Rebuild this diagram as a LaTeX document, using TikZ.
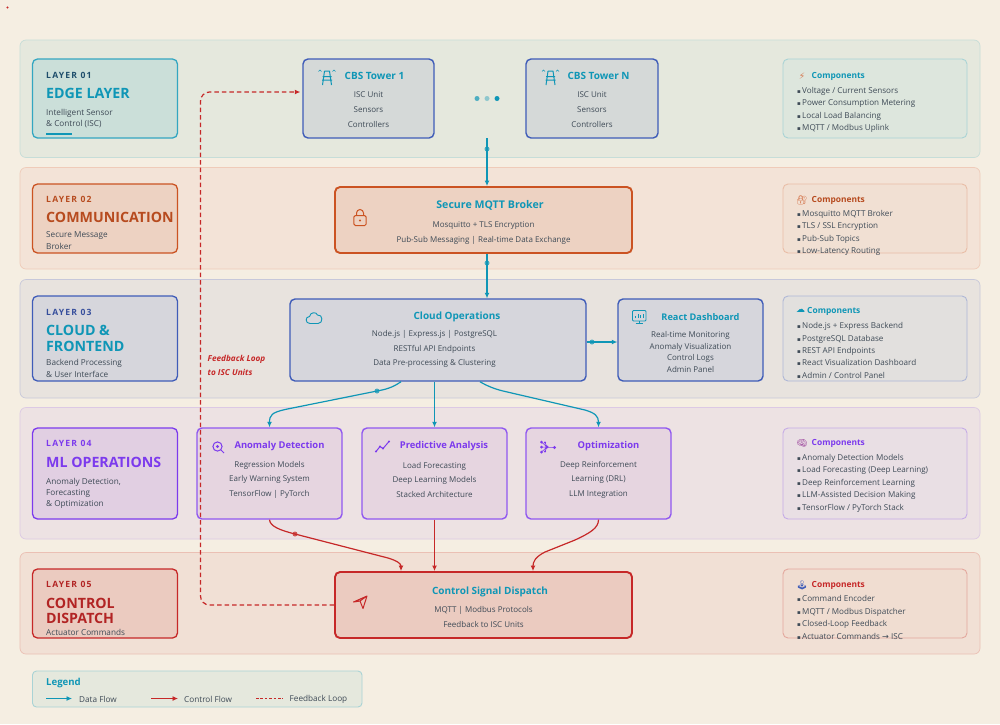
\documentclass[tikz,border=0pt]{standalone}
\usepackage{fontspec}
\usepackage[HTML]{xcolor}
\usetikzlibrary{positioning, arrows.meta}
\setmainfont{Open Sans}
\newfontfamily\layerfont[LetterSpace=14]{Open Sans}
\newfontfamily\glyphfont{DejaVu Sans}
\newfontfamily\emojifont{Noto Emoji}
\newcommand{\bul}{\makebox[5pt][l]{\glyphfont\fontsize{5.5}{5.5}\selectfont ▪}}

\definecolor{pagebg}{HTML}{F5EEE2}
\definecolor{tealc}{HTML}{0F96B6}
\definecolor{navyc}{HTML}{1E4D6B}
\definecolor{bluec}{HTML}{3F5CB8}
\definecolor{orangec}{HTML}{CB5322}
\definecolor{purplec}{HTML}{7C3AED}
\definecolor{redc}{HTML}{C62828}
\definecolor{bodyc}{HTML}{3E4A56}
\definecolor{bandA}{HTML}{E5E8DD}
\definecolor{bandB}{HTML}{F3E3D7}
\definecolor{bandC}{HTML}{E8E3DE}
\definecolor{bandD}{HTML}{EDE2E3}
\definecolor{bandE}{HTML}{F1E0D5}
\definecolor{edgeA}{HTML}{C6DDD8}
\definecolor{edgeB}{HTML}{EFCBB9}
\definecolor{edgeC}{HTML}{C7C8DA}
\definecolor{edgeD}{HTML}{DCC9E4}
\definecolor{edgeE}{HTML}{EBC0B4}
\definecolor{fillA}{HTML}{CBDFD9}
\definecolor{fillB}{HTML}{EDD2C2}
\definecolor{fillC}{HTML}{D6D6DC}
\definecolor{fillD}{HTML}{E1CFE2}
\definecolor{fillE}{HTML}{EBCBC0}
\definecolor{towerfill}{HTML}{D5D9D8}
\definecolor{cardD}{HTML}{E6D5E0}
\definecolor{compA}{HTML}{DDE6DD}
\definecolor{compB}{HTML}{F1E0D3}
\definecolor{compC}{HTML}{E2E0DE}
\definecolor{compD}{HTML}{E9DFE4}
\definecolor{compE}{HTML}{F0DDD1}
\definecolor{compedgeA}{HTML}{A9D3D5}
\definecolor{compedgeB}{HTML}{E9BDA6}
\definecolor{compedgeC}{HTML}{AEB7D6}
\definecolor{compedgeD}{HTML}{C5ABE6}
\definecolor{compedgeE}{HTML}{E3A79D}

\tikzset{
  bandbox/.style={rounded corners=6pt, line width=0.7pt, minimum width=960pt, inner sep=0pt},
  layerbox/.style={rounded corners=5pt, line width=1.3pt, minimum width=145pt, inner sep=0pt},
  cardbox/.style={rounded corners=5pt, line width=1.4pt, inner sep=0pt},
  compbox/.style={rounded corners=5pt, line width=0.9pt, minimum width=184pt, inner sep=0pt},
  layertag/.style={anchor=west, inner sep=0pt, font=\layerfont\bfseries\fontsize{8.6}{10}\selectfont},
  layertitle/.style={anchor=west, inner sep=0pt, align=left, font=\bfseries\fontsize{14.2}{15.6}\selectfont},
  layertext/.style={anchor=west, inner sep=0pt, align=left, text=bodyc, font=\fontsize{8.2}{11.4}\selectfont},
  cardtitle/.style={inner sep=0pt, text=tealc, font=\bfseries\fontsize{#1}{12}\selectfont},
  cardtext/.style={inner sep=0pt, align=center, text=bodyc, font=\fontsize{8}{#1}\selectfont},
  comptitle/.style={anchor=west, inner sep=0pt, font=\bfseries\fontsize{8.4}{10}\selectfont},
  complist/.style={anchor=west, inner sep=0pt, align=left, text=bodyc, font=\fontsize{8.1}{12.45}\selectfont},
  compicon/.style={inner sep=0pt, font=\emojifont\fontsize{9}{9}\selectfont},
  legendtext/.style={anchor=west, inner sep=0pt, text=bodyc, font=\fontsize{8.2}{10}\selectfont},
  dataflow/.style={draw=tealc, line width=1.2pt, -{Latex[length=5.5pt,width=5pt]}},
  controlflow/.style={draw=redc, line width=1.2pt, -{Latex[length=5.5pt,width=5pt]}},
  feedback/.style={draw=redc, line width=1.2pt, dash pattern=on 4.5pt off 3pt},
  flowdot/.style={circle, fill=#1, inner sep=0pt, minimum size=5pt, opacity=0.75},
  pics/towericon/.style={code={
    \draw[tealc, line width=1pt] (-2.5,-7) -- (-4.5,7) (2.5,-7) -- (4.5,7) (-2.5,-7) -- (2.5,-7)
      (-4.5,-1.5) -- (4.5,-1.5) (-5,2) -- (5,2);
    \draw[tealc, line width=0.6pt] (-8.5,-6.5) -- (-7,-8) -- (-5.5,-6.5) (5.5,-6.5) -- (7,-8) -- (8.5,-6.5);
  }}
}

\begin{document}
\begin{tikzpicture}[x=1pt, y=-1pt]
\useasboundingbox (0,0) rectangle (1000,724);
\fill[pagebg] (0,0) rectangle (1000,724);
\fill[redc] (7.5,7.5) circle (1.2);

% bands
\node[bandbox, draw=edgeA, fill=bandA, minimum height=117.5pt] (band1) at (500,98.75) {};
\node[bandbox, draw=edgeB, fill=bandB, minimum height=101.5pt] (band2) at (500,218.25) {};
\node[bandbox, draw=edgeC, fill=bandC, minimum height=118.5pt] (band3) at (500,338.75) {};
\node[bandbox, draw=edgeD, fill=bandD, minimum height=131.5pt] (band4) at (500,473.25) {};
\node[bandbox, draw=edgeE, fill=bandE, minimum height=101.5pt] (band5) at (500,603.25) {};

% layer cards
\node[layerbox, draw=tealc!85, fill=fillA, minimum height=79pt] (layer1) at (105,98.5) {};
\node[layertag, text=navyc] (tag1) at (46,75) {LAYER 01};
\node[layertitle, text=tealc] (title1) at (46,93.5) {EDGE LAYER};
\node[layertext] (sub1) at (46,118.4) {Intelligent Sensor\\\& Control (ISC)};
\draw[tealc, line width=1.2pt] (46,134) -- (72,134);

\node[layerbox, draw=orangec, fill=fillB, minimum height=69pt] (layer2) at (105,218.5) {};
\node[layertag, text=orangec!90!black] (tag2) at (46,199.5) {LAYER 02};
\node[layertitle, text=orangec!90!black] (title2) at (46,217) {COMMUNICATION};
\node[layertext] (sub2) at (46,240.6) {Secure Message\\Broker};

\node[layerbox, draw=bluec, fill=fillC, minimum height=85pt] (layer3) at (105,338.5) {};
\node[layertag, text=bluec!85!black] (tag3) at (46,312) {LAYER 03};
\node[layertitle, text=tealc] (title3) at (46,338.2) {CLOUD \&\\FRONTEND};
\node[layertext] (sub3) at (46,368.6) {Backend Processing\\\& User Interface};

\node[layerbox, draw=purplec, fill=fillD, minimum height=91pt] (layer4) at (105,473.5) {};
\node[layertag, text=purplec] (tag4) at (46,443.5) {LAYER 04};
\node[layertitle, text=purplec] (title4) at (46,462) {ML OPERATIONS};
\node[layertext] (sub4) at (46,493.4) {Anomaly Detection,\\Forecasting\\\& Optimization};

\node[layerbox, draw=redc, fill=fillE, minimum height=69pt] (layer5) at (105,603.5) {};
\node[layertag, text=redc!90!black] (tag5) at (46,584.5) {LAYER 05};
\node[layertitle, text=redc!90!black] (title5) at (46,611) {CONTROL\\DISPATCH};
\node[layertext] (sub5) at (46,632.7) {Actuator Commands};

% towers
\node[cardbox, draw=bluec, fill=towerfill, minimum width=131pt, minimum height=79pt] (tower1) at (368.5,98.5) {};
\pic at (327,78) {towericon};
\node[cardtitle=10] (tower1head) at (374.5,75.7) {CBS Tower 1};
\node[cardtext=15] (tower1text) at (368.5,110) {ISC Unit\\Sensors\\Controllers};

\node[cardbox, draw=bluec, fill=towerfill, minimum width=132pt, minimum height=79pt] (towerN) at (592,98.5) {};
\pic at (550.5,78) {towericon};
\node[cardtitle=10] (towerNhead) at (598.5,75.7) {CBS Tower N};
\node[cardtext=15] (towerNtext) at (592,110) {ISC Unit\\Sensors\\Controllers};

\node[circle, fill=tealc, opacity=0.7, minimum size=5pt, inner sep=0pt] (gap1) at (477,98.5) {};
\node[circle, fill=tealc, opacity=0.4, minimum size=5pt, inner sep=0pt] (gap2) at (487,98.5) {};
\node[circle, fill=tealc, minimum size=5pt, inner sep=0pt] (gap3) at (497,98.5) {};

% broker
\node[cardbox, draw=orangec, fill=fillB, line width=1.9pt, minimum width=297pt, minimum height=66pt] (mqtt) at (483.5,220) {};
\draw[orangec, line width=1pt, rounded corners=1.5pt] (353.8,215.5) rectangle (366.2,225.5);
\draw[orangec, line width=1pt] (356.5,215.5) -- (356.5,213) arc[start angle=180, end angle=360, radius=3.5] -- (363.5,215.5);
\fill[orangec] (360,220.5) circle (1.1);
\node[cardtitle=10.6] (mqtthead) at (490,205.7) {Secure MQTT Broker};
\node[cardtext=14.5] (mqtttext) at (483.5,233) {Mosquitto + TLS Encryption\\Pub-Sub Messaging | Real-time Data Exchange};

% cloud and dashboard
\node[cardbox, draw=bluec, fill=fillC, minimum width=296pt, minimum height=82pt] (cloud) at (438,340) {};
\draw[tealc, line width=0.9pt] (310,323.5) .. controls (305,323.5) and (305,316.5) .. (309.5,316.5)
  .. controls (310,312) and (316.5,311.5) .. (317.5,315) .. controls (323,314) and (323.5,323.5) .. (318,323.5) -- cycle;
\node[cardtitle=10] (cloudhead) at (457,317.2) {Cloud Operations};
\node[cardtext=14.5] (cloudtext) at (434.5,349.2) {Node.js | Express.js | PostgreSQL\\RESTful API Endpoints\\Data Pre-processing \& Clustering};

\node[cardbox, draw=bluec, fill=fillC, minimum width=145pt, minimum height=82pt] (react) at (690.5,340) {};
\draw[tealc, line width=0.9pt, rounded corners=1pt] (632.5,310.5) rectangle (646,321);
\draw[tealc, line width=0.9pt] (639.2,321) -- (639.2,323.5) (635.5,323.5) -- (643,323.5);
\draw[tealc, line width=0.9pt] (635.5,318) -- (635.5,316) (638,318) -- (638,314) (640.5,318) -- (640.5,315) (643,318) -- (643,314);
\node[cardtitle=9.2] (reacthead) at (700.5,317.2) {React Dashboard};
\node[cardtext=11.6] (reacttext) at (690.5,351.8) {Real-time Monitoring\\Anomaly Visualization\\Control Logs\\Admin Panel};

% ml cards
\node[cardbox, draw=purplec!85, fill=cardD, minimum width=145pt, minimum height=91pt] (anomaly) at (269.5,473.5) {};
\draw[purplec, line width=1pt] (217.5,446.5) circle (4.6);
\fill[purplec] (217.5,446.5) circle (1.7);
\draw[purplec, line width=1pt] (221,450) -- (224,453);
\node[cardtitle=9.4, text=purplec] (anomalyhead) at (279.5,446) {Anomaly Detection};
\node[cardtext=14.5] (anomalytext) at (269.5,479.5) {Regression Models\\Early Warning System\\TensorFlow | PyTorch};

\node[cardbox, draw=purplec!85, fill=cardD, minimum width=145pt, minimum height=91pt] (predict) at (434.5,473.5) {};
\draw[purplec, line width=1pt] (376,451.5) -- (380,446.5) -- (383,448.5) -- (389,441.5);
\fill[purplec] (380,446.5) circle (1.1) (383,448.5) circle (1.1) (389,441.5) circle (1.1) (376,451.5) circle (1.1);
\node[cardtitle=9.4, text=purplec] (predicthead) at (444,446) {Predictive Analysis};
\node[cardtext=14.5] (predicttext) at (434.5,479.5) {Load Forecasting\\Deep Learning Models\\Stacked Architecture};

\node[cardbox, draw=purplec!85, fill=cardD, minimum width=145pt, minimum height=91pt] (optim) at (598.5,473.5) {};
\draw[purplec, line width=0.6pt] (541.5,442) -- (547,447) -- (541.5,452) (541.5,447) -- (554.5,447.5) (545,442.5) -- (547,447) -- (545,451.5);
\fill[purplec] (541.5,442) circle (1.5) (541.5,447) circle (1.5) (541.5,452) circle (1.5) (545,442.5) circle (1.1) (545,451.5) circle (1.1) (547,447) circle (1.6) (554.5,447.5) circle (1.7);
\node[cardtitle=9.4, text=purplec] (optimhead) at (608.5,446) {Optimization};
\node[cardtext=14.5] (optimtext) at (598.5,479.5) {Deep Reinforcement\\Learning (DRL)\\LLM Integration};

% dispatch
\node[cardbox, draw=redc, fill=fillE, line width=1.9pt, minimum width=297pt, minimum height=66pt] (dispatch) at (483.5,605) {};
\draw[redc, line width=1pt, line join=round] (353.5,602) -- (367,596) -- (363,608.5) -- (360,601) -- cycle (360,601) -- (367,596);
\node[cardtitle=10] (dispatchhead) at (490,592.2) {Control Signal Dispatch};
\node[cardtext=14.5] (dispatchtext) at (483.5,617) {MQTT | Modbus Protocols\\Feedback to ISC Units};

% components
\node[compbox, draw=compedgeA, fill=compA, minimum height=79pt] (comp1) at (875,98.5) {};
\node[compicon, font=\glyphfont\fontsize{9}{9}\selectfont, text=orangec!75!pagebg] (comp1icon) at (802,76) {⚡};
\node[comptitle, text=tealc] (comp1head) at (811.5,76.3) {Components};
\node[complist] (comp1list) at (797,109.8) {\bul Voltage / Current Sensors\\\bul Power Consumption Metering\\\bul Local Load Balancing\\\bul MQTT / Modbus Uplink};

\node[compbox, draw=compedgeB, fill=compB, minimum height=69pt] (comp2) at (875,218.5) {};
\node[compicon, text=orangec!80!pagebg] (comp2icon) at (802,200) {🔐};
\node[comptitle, text=orangec!90!black] (comp2head) at (811.5,200.3) {Components};
\node[complist] (comp2list) at (797,233.1) {\bul Mosquitto MQTT Broker\\\bul TLS / SSL Encryption\\\bul Pub-Sub Topics\\\bul Low-Latency Routing};

\node[compbox, draw=compedgeC, fill=compC, minimum height=85pt] (comp3) at (875,338.5) {};
\node[compicon, font=\glyphfont\fontsize{9}{9}\selectfont, text=tealc] (comp3icon) at (800.5,311) {☁};
\node[comptitle, text=tealc] (comp3head) at (807,311.8) {Components};
\node[complist] (comp3list) at (797,350.5) {\bul Node.js + Express Backend\\\bul PostgreSQL Database\\\bul REST API Endpoints\\\bul React Visualization Dashboard\\\bul Admin / Control Panel};

\node[compbox, draw=compedgeD, fill=compD, minimum height=91pt] (comp4) at (875,473.5) {};
\node[compicon, text=purplec!60!orangec] (comp4icon) at (802,443.5) {🧠};
\node[comptitle, text=purplec] (comp4head) at (811.5,443.8) {Components};
\node[complist] (comp4list) at (797,483) {\bul Anomaly Detection Models\\\bul Load Forecasting (Deep Learning)\\\bul Deep Reinforcement Learning\\\bul LLM-Assisted Decision Making\\\bul TensorFlow / PyTorch Stack};

\node[compbox, draw=compedgeE, fill=compE, minimum height=69pt] (comp5) at (875,603.5) {};
\node[compicon, text=bluec] (comp5icon) at (802,585) {🕹};
\node[comptitle, text=redc] (comp5head) at (811.5,585.3) {Components};
\node[complist] (comp5list) at (797,617.3) {\bul Command Encoder\\\bul MQTT / Modbus Dispatcher\\\bul Closed-Loop Feedback\\\bul Actuator Commands {\glyphfont →} ISC};

% legend
\node[rounded corners=4pt, draw=compedgeA, fill=bandA, line width=0.9pt, minimum width=329.5pt, minimum height=36pt, inner sep=0pt] (legend) at (197.25,689) {};
\node[anchor=west, inner sep=0pt, text=tealc, font=\bfseries\fontsize{9.6}{11}\selectfont] (legendhead) at (46,683.3) {Legend};
\coordinate (dataA) at (46,698.5);
\coordinate (dataB) at (72,698.5);
\coordinate (ctrlA) at (151,698.5);
\coordinate (ctrlB) at (178,698.5);
\coordinate (fbA) at (256,698.5);
\coordinate (fbB) at (283,698.5);
\draw[dataflow, line width=0.9pt] (dataA) -- (dataB);
\draw[controlflow, line width=0.9pt] (ctrlA) -- (ctrlB);
\draw[feedback, line width=0.9pt, dash pattern=on 2.6pt off 1.8pt] (fbA) -- (fbB);
\node[legendtext] (legend1) at (79,699) {Data Flow};
\node[legendtext] (legend2) at (184,699) {Control Flow};
\node[legendtext] (legend3) at (289.5,699) {Feedback Loop};

% connectors
\coordinate (towerout) at (487,138);
\draw[dataflow] (towerout) -- ([xshift=3.5pt]mqtt.north);
\draw[dataflow] ([xshift=3.5pt]mqtt.south) -- ([xshift=49pt]cloud.north);
\draw[dataflow] ([yshift=-2pt]cloud.east) -- ([yshift=-2pt]react.west);
\draw[dataflow] ([xshift=-37pt]cloud.south) .. controls (392,388) and (385,389.5) .. (377,391)
  -- (285,409.5) .. controls (272,412.5) and (269.5,415) .. (anomaly.north);
\draw[dataflow] (cloud.south -| predict.north) -- (predict.north);
\draw[dataflow] ([xshift=42pt]cloud.south) .. controls (487,386) and (495,389) .. (503,391)
  -- (585,410) .. controls (595,413) and (598.5,416) .. (optim.north);
\draw[controlflow] (anomaly.south) .. controls (270,526) and (279,530) .. (295,534)
  -- (388,558) .. controls (398,561) and (401,564) .. ([xshift=-82.5pt]dispatch.north);
\draw[controlflow] (predict.south) -- (predict.south |- dispatch.north);
\draw[controlflow] (optim.south) .. controls (598.5,528) and (590,533) .. (575,540)
  -- (545,552) .. controls (535,557) and (533,562) .. ([xshift=49.5pt]dispatch.north);
\coordinate (fbturn) at (200.5,300);
\draw[feedback, rounded corners=9pt, shorten >=2pt, -{Latex[length=5.5pt,width=5pt]}] (dispatch.west) -| (fbturn) |- ([yshift=6.5pt]tower1.west);

% connector dots
\node[flowdot=tealc] (dot1) at (487,149) {};
\node[flowdot=tealc] (dot2) at (487,263) {};
\node[flowdot=tealc] (dot3) at (592,342) {};
\node[flowdot=tealc] (dot4) at (377,391) {};
\node[flowdot=redc] (dot5) at (295,534) {};

\node[anchor=west, inner sep=0pt, align=left, text=redc, font=\bfseries\itshape\fontsize{8.2}{13.4}\selectfont] (fblabel) at (207.5,365.5) {Feedback Loop\\to ISC Units};
\end{tikzpicture}
\end{document}
